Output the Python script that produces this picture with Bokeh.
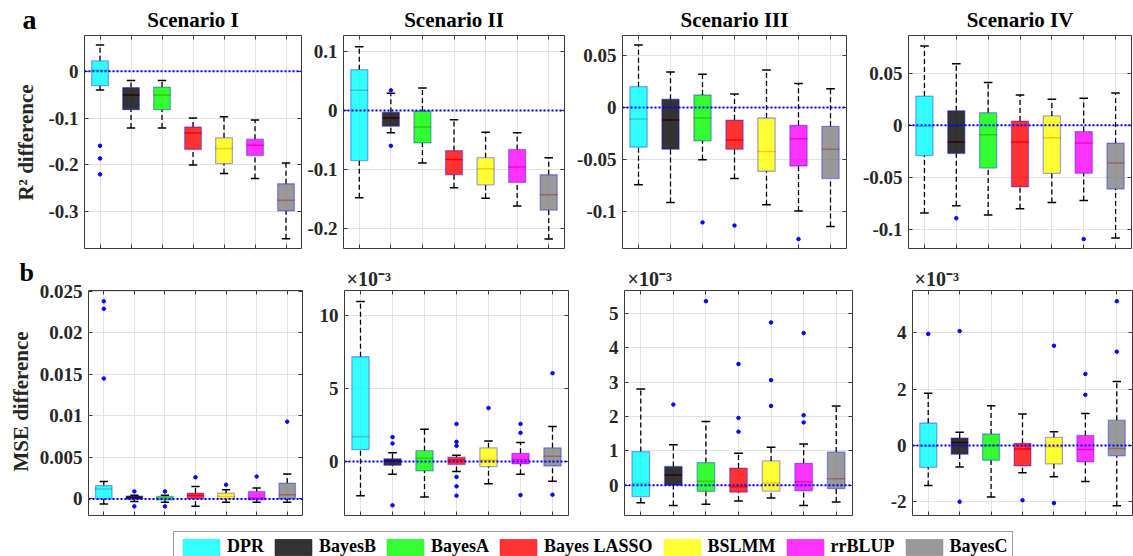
import numpy as np
from bokeh.plotting import figure
from bokeh.models import (ColumnDataSource, FixedTicker, LinearAxis, Range1d,
                          Span, Label, Legend, LegendItem)
from bokeh.layouts import column, row
from bokeh.embed import file_html
from bokeh.resources import INLINE

methods = ["DPR", "BayesB", "BayesA", "Bayes LASSO", "BSLMM", "rrBLUP", "BayesC"]
colors = ["#00ffff", "#000000", "#00ff00", "#ff0000", "#ffff00", "#ff00ff", "#808080"]
scenarios = ["Scenario I", "Scenario II", "Scenario III", "Scenario IV"]

# ---------- a: R^2 difference (box stats: whisker low, q1, median, q3, whisker high) ----------
a1_lo = [-0.040, -0.121, -0.121, -0.200, -0.218, -0.229, -0.357]
a1_q1 = [-0.031, -0.082, -0.082, -0.167, -0.197, -0.180, -0.298]
a1_md = [0.002, -0.051, -0.051, -0.132, -0.165, -0.158, -0.275]
a1_q3 = [0.022, -0.035, -0.034, -0.119, -0.142, -0.145, -0.240]
a1_hi = [0.056, -0.020, -0.020, -0.100, -0.097, -0.104, -0.196]
a1_out = [[-0.159, -0.186, -0.220], [], [], [], [], [], []]

a2_lo = [-0.148, -0.038, -0.089, -0.131, -0.149, -0.162, -0.218]
a2_q1 = [-0.085, -0.027, -0.055, -0.109, -0.126, -0.122, -0.169]
a2_md = [0.034, -0.013, -0.028, -0.083, -0.099, -0.096, -0.143]
a2_q3 = [0.069, -0.003, -0.001, -0.068, -0.080, -0.066, -0.109]
a2_hi = [0.108, 0.029, 0.038, -0.016, -0.037, -0.038, -0.080]
a2_out = [[], [0.034, -0.060], [], [], [], [], []]

a3_lo = [-0.074, -0.091, -0.050, -0.068, -0.093, -0.099, -0.114]
a3_q1 = [-0.038, -0.040, -0.032, -0.040, -0.061, -0.056, -0.068]
a3_md = [-0.011, -0.012, -0.010, -0.031, -0.042, -0.030, -0.040]
a3_q3 = [0.020, 0.008, 0.012, -0.012, -0.010, -0.017, -0.018]
a3_hi = [0.060, 0.034, 0.032, 0.013, 0.036, 0.023, 0.018]
a3_out = [[], [], [-0.110], [-0.113], [], [-0.126], []]

a4_lo = [-0.084, -0.077, -0.086, -0.080, -0.074, -0.072, -0.108]
a4_q1 = [-0.029, -0.027, -0.041, -0.059, -0.046, -0.046, -0.061]
a4_md = [-0.001, -0.016, -0.009, -0.016, -0.012, -0.017, -0.036]
a4_q3 = [0.028, 0.014, 0.012, 0.004, 0.009, -0.006, -0.017]
a4_hi = [0.076, 0.059, 0.041, 0.029, 0.025, 0.026, 0.031]
a4_out = [[], [-0.089], [], [], [], [-0.109], []]

# ---------- b: MSE difference (b1 in raw units, b2..b4 in units of 1e-3) ----------
b1_lo = [-0.0006, -0.0003, -0.0004, -0.0009, -0.0004, -0.0004, -0.0004]
b1_q1 = [0.0, -0.00004, -0.0001, 0.0, 0.0, -0.0001, 0.0]
b1_md = [0.0012, 0.00016, 0.0001, 0.0004, 0.0003, 0.0001, 0.0005]
b1_q3 = [0.0016, 0.00035, 0.0003, 0.0007, 0.0007, 0.0009, 0.0019]
b1_hi = [0.0021, 0.00043, 0.00043, 0.0015, 0.0011, 0.0013, 0.0030]
b1_out = [[0.0238, 0.0229, 0.0145], [0.0009, -0.0009], [0.0009, -0.0009],
          [0.0026], [0.0017], [0.0027], [0.0093]]

b2_lo = [-2.34, -0.86, -2.43, -0.68, -1.52, -0.86, -1.34]
b2_q1 = [0.82, -0.25, -0.64, -0.20, -0.34, -0.16, -0.30]
b2_md = [1.70, 0.05, 0.23, 0.11, 0.09, 0.14, 0.36]
b2_q3 = [7.20, 0.20, 0.75, 0.30, 0.95, 0.57, 0.95]
b2_hi = [11.0, 0.61, 2.23, 0.43, 1.41, 1.32, 2.41]
b2_out = [[], [1.68, 1.25, -3.0], [], [2.59, 1.36, 1.09, -1.05, -1.70, -2.34],
          [3.68], [2.59, 1.98, -2.30], [6.07, -2.27]]

b3_lo = [-0.51, -0.59, -0.55, -0.46, -0.37, -0.59, -0.49]
b3_q1 = [-0.33, 0.0, -0.18, -0.20, -0.17, -0.16, -0.10]
b3_md = [0.05, 0.30, 0.12, -0.04, 0.06, 0.10, 0.19]
b3_q3 = [0.98, 0.55, 0.66, 0.50, 0.71, 0.64, 0.97]
b3_hi = [2.80, 1.18, 1.86, 0.93, 1.11, 1.20, 2.31]
b3_out = [[], [2.35], [5.36], [3.53, 1.96, 1.56], [4.74, 3.06, 2.31],
          [4.43, 2.04, 1.83], []]

b4_lo = [-1.42, -0.76, -1.82, -0.96, -1.11, -1.27, -2.13]
b4_q1 = [-0.77, -0.31, -0.52, -0.72, -0.65, -0.58, -0.36]
b4_md = [-0.02, 0.11, 0.0, -0.12, -0.04, -0.14, -0.10]
b4_q3 = [0.80, 0.27, 0.41, 0.08, 0.29, 0.36, 0.90]
b4_hi = [1.86, 0.47, 1.41, 1.12, 0.49, 1.14, 2.27]
b4_out = [[3.96], [4.06, -1.99], [], [-1.94], [3.54, -2.04], [2.54, 1.80], [5.12, 3.33]]

# axis ticks / labels
a1_ticks, a1_labels = [-0.3, -0.2, -0.1, 0.0], ["-0.3", "-0.2", "-0.1", "0"]
a2_ticks, a2_labels = [-0.2, -0.1, 0.0, 0.1], ["-0.2", "-0.1", "0", "0.1"]
a3_ticks, a3_labels = [-0.1, -0.05, 0.0, 0.05], ["-0.1", "-0.05", "0", "0.05"]
a4_ticks, a4_labels = [-0.1, -0.05, 0.0, 0.05], ["-0.1", "-0.05", "0", "0.05"]
b1_ticks = [0.0, 0.005, 0.01, 0.015, 0.02, 0.025]
b1_labels = ["0", "0.005", "0.01", "0.015", "0.02", "0.025"]
b2_ticks, b2_labels = [0.0, 5.0, 10.0], ["0", "5", "10"]
b3_ticks, b3_labels = [0.0, 1.0, 2.0, 3.0, 4.0, 5.0], ["0", "1", "2", "3", "4", "5"]
b4_ticks, b4_labels = [-2.0, 0.0, 2.0, 4.0], ["-2", "0", "2", "4"]
exp_label = "×10⁻³"
ylab_a = "R² difference"
ylab_b = "MSE difference"

FONT = "Liberation Serif"
TXT = "#262626"

# row geometry (plots in a Bokeh row share their top/bottom borders)
R1_H, R1_TOP, R1_BOT = 250, 34, 3
R2_H, R2_TOP, R2_BOT = 274, 39, 10


def hidden_axis(ax):
    ax.major_label_text_font_size = "1px"
    ax.major_label_text_color = None
    ax.major_label_standoff = 0


def panel(stats, outs, yr, ticks, labels, fw, bl, rh, bt, bb, br=2,
          title=None, exponent=False, exp_offset=2):
    lo, q1, md, q3, hi = [np.array(s, dtype=float) for s in stats]
    pos = np.arange(1, len(methods) + 1, dtype=float)
    p = figure(frame_width=fw, frame_height=rh - bt - bb, min_border_left=bl,
               min_border_right=br, min_border_top=bt, min_border_bottom=bb,
               x_range=Range1d(0.5, 7.5), y_range=Range1d(*yr),
               toolbar_location=None, output_backend="svg")
    if title or exponent:
        p.title.text = title if title else exp_label
        p.title.align = "center" if title else "left"
        p.title.offset = 0 if title else exp_offset
        p.title.text_font = FONT
        p.title.text_font_size = "21px" if title else "20px"
        p.title.text_font_style = "bold"
        p.title.text_color = "#000000" if title else TXT
        p.title.standoff = 8 if title else 2
    p.outline_line_color = "#3a3a3a"
    p.outline_line_width = 1
    p.background_fill_color = "white"
    p.border_fill_color = "white"

    xt = FixedTicker(ticks=list(pos))
    yt = FixedTicker(ticks=ticks)
    xa = p.xaxis[0]
    ya = p.yaxis[0]
    xa.ticker = xt
    ya.ticker = yt
    for ax in (xa, ya):
        ax.major_tick_in = 4
        ax.major_tick_out = 0
        ax.minor_tick_line_color = None
        ax.axis_line_color = None
        ax.major_tick_line_color = "#3a3a3a"
    hidden_axis(xa)
    ya.major_label_overrides = {t: l for t, l in zip(ticks, labels)}
    ya.major_label_text_font = FONT
    ya.major_label_text_font_size = "19px"
    ya.major_label_text_font_style = "bold"
    ya.major_label_text_color = TXT
    ya.major_label_standoff = 6
    for loc, tk in (("right", yt), ("above", xt)):
        ax = LinearAxis(ticker=tk, major_tick_in=4, major_tick_out=0,
                        minor_tick_line_color=None, axis_line_color=None,
                        major_tick_line_color="#3a3a3a")
        hidden_axis(ax)
        p.add_layout(ax, loc)
    p.xgrid.ticker = xt
    p.ygrid.ticker = yt
    p.xgrid.grid_line_color = "#e2e2e2"
    p.ygrid.grid_line_color = "#e2e2e2"

    bw, cw = 0.54, 0.27
    src = ColumnDataSource(dict(x=pos, lo=lo, q1=q1, md=md, q3=q3, hi=hi,
                                color=colors, bx0=pos - bw / 2, bx1=pos + bw / 2,
                                cx0=pos - cw / 2, cx1=pos + cw / 2))
    p.segment("x", "q3", "x", "hi", source=src, line_color="black",
              line_dash="5 3", line_width=1.3)
    p.segment("x", "lo", "x", "q1", source=src, line_color="black",
              line_dash="5 3", line_width=1.3)
    p.segment("cx0", "hi", "cx1", "hi", source=src, line_color="black", line_width=1.5)
    p.segment("cx0", "lo", "cx1", "lo", source=src, line_color="black", line_width=1.5)
    p.segment("bx0", "md", "bx1", "md", source=src, line_color="red", line_width=1.5)
    p.vbar(x="x", width=bw, bottom="q1", top="q3", source=src, fill_color="color",
           fill_alpha=0.8, line_color="blue", line_alpha=0.35, line_width=1.3)

    ox = [pos[i] for i, o in enumerate(outs) for _ in o]
    oy = [v for o in outs for v in o]
    p.scatter(ox, oy, marker="circle", size=3.5, fill_color="blue", line_color="blue")

    p.add_layout(Span(location=0, dimension="width", line_color="blue",
                      line_dash="2 2", line_width=2))
    return p


def side_strip(w, h, bt, bb, letter, letter_x, letter_standoff, letter_size,
               ylabel, ylabel_xy):
    """Narrow strip left of the first panel: the panel letter is the strip's title,
    the rotated y label sits in its frame (coordinates = pixels from the strip's top)."""
    s = figure(frame_width=w, frame_height=h - bt - bb, min_border_left=0,
               min_border_right=0, min_border_top=bt, min_border_bottom=bb,
               x_range=Range1d(0, w), y_range=Range1d(h - bb, bt),
               toolbar_location=None, output_backend="svg")
    s.axis.visible = False
    s.grid.grid_line_color = None
    s.outline_line_color = None
    s.title.text = letter
    s.title.align = "left"
    s.title.offset = letter_x
    s.title.standoff = letter_standoff
    s.title.text_font = FONT
    s.title.text_font_size = letter_size
    s.title.text_font_style = "bold"
    s.title.text_color = "#000000"
    s.add_layout(Label(x=ylabel_xy[0], y=ylabel_xy[1], text=ylabel, angle=np.pi / 2,
                       text_font=FONT, text_font_size="21px", text_font_style="bold",
                       text_color=TXT, text_baseline="middle", text_align="center"))
    return s


# row 1
sa = side_strip(40, R1_H, R1_TOP, R1_BOT, "a", 22, 2, "28px", ylab_a, (25, 141))
r1 = dict(rh=R1_H, bt=R1_TOP, bb=R1_BOT)
f1 = panel((a1_lo, a1_q1, a1_md, a1_q3, a1_hi), a1_out, (-0.378, 0.076), a1_ticks, a1_labels,
           fw=217, bl=44, title=scenarios[0], **r1)
f2 = panel((a2_lo, a2_q1, a2_md, a2_q3, a2_hi), a2_out, (-0.234, 0.127), a2_ticks, a2_labels,
           fw=221, bl=40, title=scenarios[1], **r1)
f3 = panel((a3_lo, a3_q1, a3_md, a3_q3, a3_hi), a3_out, (-0.135, 0.069), a3_ticks, a3_labels,
           fw=224, bl=56, title=scenarios[2], **r1)
f4 = panel((a4_lo, a4_q1, a4_md, a4_q3, a4_hi), a4_out, (-0.118, 0.086), a4_ticks, a4_labels,
           fw=223, bl=60, title=scenarios[3], **r1)

# row 2
sb = side_strip(36, R2_H, R2_TOP, R2_BOT, "b", 19, 8, "26px", ylab_b, (20, 150))
r2 = dict(rh=R2_H, bt=R2_TOP, bb=R2_BOT)
f5 = panel((b1_lo, b1_q1, b1_md, b1_q3, b1_hi), b1_out, (-0.0020, 0.0251), b1_ticks, b1_labels,
           fw=214, bl=51, **r2)
f6 = panel((b2_lo, b2_q1, b2_md, b2_q3, b2_hi), b2_out, (-3.7, 11.75), b2_ticks, b2_labels,
           fw=224, bl=40, exponent=True, exp_offset=2, **r2)
f7 = panel((b3_lo, b3_q1, b3_md, b3_q3, b3_hi), b3_out, (-0.88, 5.67), b3_ticks, b3_labels,
           fw=228, bl=54, exponent=True, exp_offset=3, **r2)
f8 = panel((b4_lo, b4_q1, b4_md, b4_q3, b4_hi), b4_out, (-2.48, 5.5), b4_ticks, b4_labels,
           fw=220, bl=58, exponent=True, exp_offset=2, **r2)

# legend strip (height 32)
lf = figure(frame_width=900, frame_height=26, min_border_left=173, min_border_right=60,
            min_border_top=6, min_border_bottom=0, x_range=Range1d(0, 1),
            y_range=Range1d(0, 1), toolbar_location=None, output_backend="svg")
lf.axis.visible = False
lf.grid.grid_line_color = None
lf.outline_line_color = None
items = []
for m, c in zip(methods, colors):
    # proxy renderer, placed outside the visible range; only its legend swatch shows
    r = lf.vbar(x=[-5], top=[-5], bottom=[-6], width=1, fill_color=c, fill_alpha=0.8,
                line_color=c, line_alpha=0.6)
    items.append(LegendItem(label=m, renderers=[r]))
leg = Legend(items=items, orientation="horizontal", location="top_left", margin=0,
             padding=4, spacing=6, glyph_width=46, glyph_height=20, label_height=20,
             label_standoff=3, label_text_font=FONT, label_text_font_size="18px",
             label_text_font_style="bold", label_text_color="#000000",
             border_line_color="#3a3a3a", border_line_width=1)
lf.add_layout(leg, "center")

layout = column(row(sa, f1, f2, f3, f4), row(sb, f5, f6, f7, f8), lf)
open("out.html", "w").write(file_html(layout, INLINE))
